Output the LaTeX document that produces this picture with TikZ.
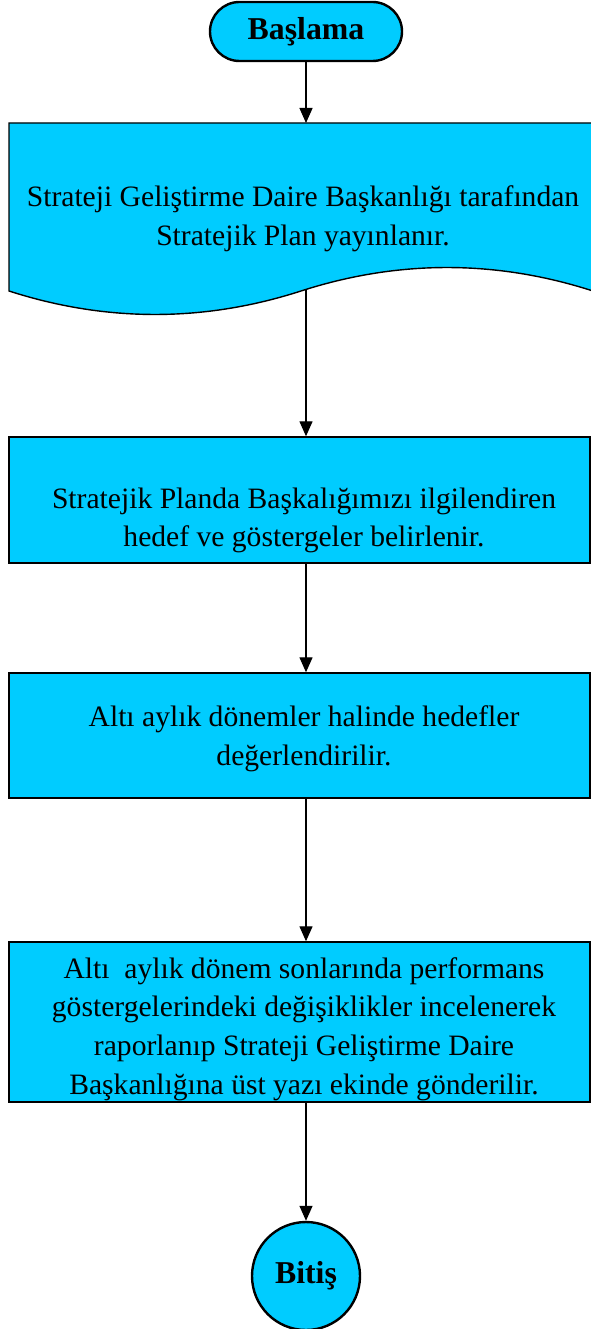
\documentclass[tikz,border=0pt]{standalone}
\usepackage{fontspec}
\setmainfont{Liberation Serif}
\usetikzlibrary{arrows.meta}
\definecolor{boxcyan}{RGB}{0,204,255}

\tikzset{
  flowbox/.style={draw, fill=boxcyan, line width=1.4pt, minimum width=581pt, inner sep=0pt},
  flowtext/.style={align=center, inner sep=0pt, font=\fontsize{29.6}{38.8}\selectfont},
  terminal/.style={draw, fill=boxcyan, line width=2.4pt, rounded corners=29.5pt, minimum width=192pt, minimum height=59pt, font=\fontsize{31.8}{36}\selectfont\bfseries},
  stopnode/.style={draw, fill=boxcyan, circle, line width=2.4pt, minimum size=108pt, inner sep=0pt, font=\fontsize{31.8}{36}\selectfont\bfseries},
  arrowline/.style={-{Triangle[width=13pt,length=15pt]}, line width=1.3pt}
}

\begin{document}
\begin{tikzpicture}[x=1pt,y=1pt,yscale=-1]
    \path[use as bounding box] (0,0) rectangle (590,1329);

    % Start
    \node[terminal] (start) at (306,31.5) {Başlama};

    %Shape: Document
    \draw[fill=boxcyan, line width=1.4pt] (9,291) -- (9,123) -- (593,123) -- (593,291)
      .. controls (496,259.7) and (398,259.7) .. (301,291)
      .. controls (204,322.3) and (106,322.3) .. (9,291) -- cycle;
    \coordinate (doctop) at (306,123);
    \coordinate (docbot) at (306,290);
    % Text Node
    \node[flowtext] (plan) at (303,218.5) {Strateji Geliştirme Daire Başkanlığı tarafından\\Stratejik Plan yayınlanır.};

    % Boxes
    \node[flowbox, minimum height=126pt] (hedef) at (299.5,500) {};
    \node[flowtext] at (304,520.5) {Stratejik Planda Başkalığımızı ilgilendiren\\hedef ve göstergeler belirlenir.};

    \node[flowbox, minimum height=125pt] (degerlendir) at (299.5,735.5) {};
    \node[flowtext] at (304,739) {Altı aylık dönemler halinde hedefler\\değerlendirilir.};

    \node[flowbox, minimum height=160pt] (rapor) at (299.5,1022) {};
    \node[flowtext] at (304,1029) {Altı~ aylık dönem sonlarında performans\\göstergelerindeki değişiklikler incelenerek\\raporlanıp Strateji Geliştirme Daire\\Başkanlığına üst yazı ekinde gönderilir.};

    % End
    \node[stopnode] (stop) at (306,1276) {Bitiş};

    % Arrows
    \draw[arrowline] (start) -- (doctop);
    \draw[arrowline] (docbot) -- (docbot |- hedef.north);
    \draw[arrowline] (docbot |- hedef.south) -- (docbot |- degerlendir.north);
    \draw[arrowline] (docbot |- degerlendir.south) -- (docbot |- rapor.north);
    \draw[arrowline] (docbot |- rapor.south) -- (stop);

\end{tikzpicture}
\end{document}
